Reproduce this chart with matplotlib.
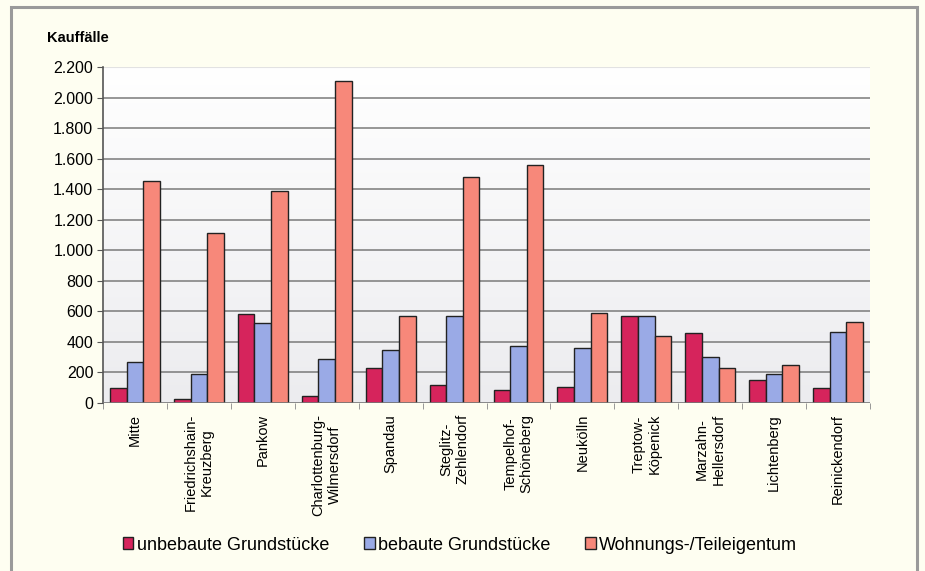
#!/usr/bin/env python3
"""Kauffälle nach Bezirken, gruppiert nach Grundstücksart"""

import numpy as np
import matplotlib.pyplot as plt
from matplotlib.patches import Rectangle
from matplotlib.ticker import FuncFormatter, MultipleLocator

bezirke = [
	"Mitte", "Friedrichshain-\nKreuzberg", "Pankow", "Charlottenburg-\nWilmersdorf",
	"Spandau", "Steglitz-\nZehlendorf", "Tempelhof-\nSchöneberg", "Neukölln",
	"Treptow-\nKöpenick", "Marzahn-\nHellersdorf", "Lichtenberg", "Reinickendorf",
]
unbebaut = [95, 25, 580, 45, 225, 115, 85, 100, 565, 460, 150, 95]
bebaut = [265, 185, 520, 285, 345, 565, 370, 360, 570, 300, 190, 465]
wohnungen = [1450, 1115, 1385, 2105, 565, 1480, 1555, 590, 440, 225, 250, 530]

serien = ["unbebaute Grundstücke", "bebaute Grundstücke", "Wohnungs-/Teileigentum"]
farben = ["#D6245C", "#9AAAE6", "#F7887A"]

plt.rcParams['font.family'] = ['Liberation Sans', 'DejaVu Sans']

fig = plt.figure(figsize=(9.25, 5.71), dpi=100)
fig.patch.set_facecolor("#FEFEF1")

# Rahmen um die ganze Grafik
fig.patches.append(Rectangle((11 / 925, -0.02), 906 / 925, 1.0 - 7 / 571 + 0.02,
	transform=fig.transFigure, fill=False, edgecolor="#9A9A9A", linewidth=2.2))

ax = fig.add_axes([103 / 925, 1 - 402.7 / 571, 767 / 925, 335.7 / 571])

# leichter Verlauf im Diagrammbereich
verlauf = np.linspace(0, 1, 256).reshape(-1, 1)
ax.imshow(verlauf, cmap=plt.matplotlib.colors.LinearSegmentedColormap.from_list(
	"bg", ["#ECECEF", "#FFFFFF"]), extent=[-0.5, len(bezirke) - 0.5, 0, 2200],
	aspect="auto", origin="lower", zorder=0)

x = np.arange(len(bezirke))
breite = 0.26
for i, (werte, name) in enumerate(zip([unbebaut, bebaut, wohnungen], serien)):
	ax.bar(x + (i - 1) * breite, werte, breite, color=farben[i], edgecolor="#222222",
		linewidth=1.0, label=name, zorder=3)

ax.set_xlim(-0.5, len(bezirke) - 0.5)
ax.set_ylim(0, 2200)
ax.yaxis.set_major_locator(MultipleLocator(200))
ax.yaxis.set_major_formatter(FuncFormatter(lambda v, p: f"{v:,.0f}".replace(",", ".")))
for y in range(200, 2200, 200):
	ax.axhline(y, color="#7A7A7A", linewidth=1.1, zorder=1)
ax.axhline(2200, color="#E2E2E2", linewidth=0.8, zorder=1)

for s in ["top", "right", "bottom"]:
	ax.spines[s].set_visible(False)
ax.spines["left"].set_color("#555555")
ax.spines["left"].set_linewidth(1.2)
ax.axhline(0, color="#777777", linewidth=1.2, zorder=4)

ax.set_xticks(x)
ax.set_xticklabels(bezirke, rotation=90, va="top", ha="center", multialignment="center",
	fontsize=10.5)
ax.tick_params(axis="x", length=0, pad=8)
ax.set_xticks(np.arange(-0.5, len(bezirke), 1), minor=True)
ax.tick_params(axis="x", which="minor", length=4, color="#888888", direction="out")
ax.tick_params(axis="y", length=4, color="#555555", labelsize=11.5, pad=3)

fig.text(47 / 925, 1 - 38 / 571, "Kauffälle", fontsize=10.5, fontweight="bold",
	va="center", ha="left")

fig.legend(loc="center", bbox_to_anchor=(460 / 925, 1 - 545 / 571), ncol=3, frameon=False,
	fontsize=13, handlelength=0.6, handleheight=0.6, handletextpad=0.2,
	columnspacing=1.9)

fig.savefig("out.png", dpi=100, facecolor=fig.get_facecolor())
